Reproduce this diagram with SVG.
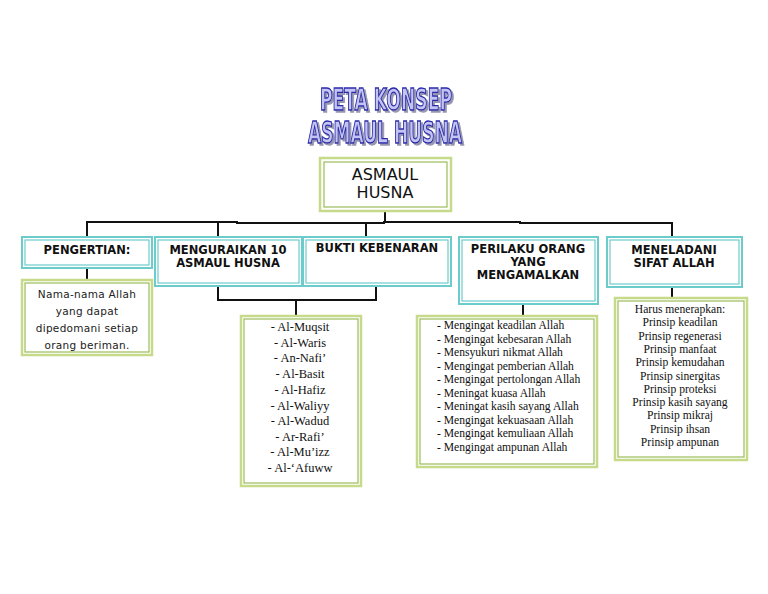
<svg xmlns="http://www.w3.org/2000/svg" width="768" height="594" viewBox="0 0 768 594">
<defs>
<filter id="sh" x="-10%" y="-20%" width="130%" height="150%">
<feDropShadow dx="2" dy="2" stdDeviation="0.6" flood-color="#8a8aa8" flood-opacity="0.9"/>
</filter>
</defs>
<style>
.title{font-family:"Liberation Sans Narrow","DejaVu Sans Condensed","Liberation Sans",sans-serif;font-weight:bold;font-size:30px;fill:#c4c4f4;stroke:#2a2aa8;stroke-width:1.3;text-anchor:middle;filter:url(#sh)}
.go{fill:#fff;stroke:#c6da8a;stroke-width:2.5}
.gi{fill:none;stroke:#9cbc5a;stroke-width:1.2}
.co{fill:#fff;stroke:#6ccccc;stroke-width:2}
.ci{fill:none;stroke:#6ccccc;stroke-width:1.2}
.hd{font-family:"DejaVu Sans","Liberation Sans",sans-serif;font-weight:bold;font-size:11.5px;fill:#111;text-anchor:middle}
.root{font-family:"DejaVu Sans","Liberation Sans",sans-serif;font-size:16px;fill:#111;text-anchor:middle}
.cm{font-family:"DejaVu Sans","Liberation Sans",sans-serif;font-size:10.5px;fill:#222;text-anchor:middle;letter-spacing:0.3px}
.sr{font-family:"Liberation Serif","DejaVu Serif",serif;font-size:12.5px;fill:#111}
.sm{font-family:"Liberation Serif","DejaVu Serif",serif;font-size:11.6px;fill:#111}
.ln{fill:none;stroke:#111;stroke-width:2}
</style>
<rect width="768" height="594" fill="#fff"/>
<g id="title">
<text class="title" x="386" y="110" textLength="132" lengthAdjust="spacingAndGlyphs">PETA KONSEP</text>
<text class="title" x="385" y="143" textLength="154" lengthAdjust="spacingAndGlyphs">ASMAUL HUSNA</text>
</g>
<g id="connectors">
<path class="ln" d="M385 212V222"/>
<path class="ln" d="M87 237V222H237V223H384V222H520V223H672V237"/>
<path class="ln" d="M218 222V237"/>
<path class="ln" d="M366 223V237"/>
<path class="ln" d="M87 268V280"/>
<path class="ln" d="M218 286V300H376V287"/>
<path class="ln" d="M296 300V316"/>
<path class="ln" d="M523 304V316"/>
<path class="ln" d="M672 287V298"/>
</g>
<g id="n-root">
<rect class="go" x="320" y="158" width="131" height="53"/>
<rect class="gi" x="324" y="162" width="123" height="45"/>
<text class="root" x="385" y="180">ASMAUL</text>
<text class="root" x="385" y="198">HUSNA</text>
</g>
<g id="n-pengertian">
<rect class="co" x="22" y="237" width="130" height="31"/>
<rect class="ci" x="25" y="240" width="124" height="25"/>
<text class="hd" x="87" y="254">PENGERTIAN:</text>
</g>
<g id="n-menguraikan">
<rect class="co" x="155" y="237" width="147" height="49"/>
<rect class="ci" x="158" y="240" width="141" height="43"/>
<text class="hd" x="228" y="254">MENGURAIKAN 10</text>
<text class="hd" x="228" y="267">ASMAUL HUSNA</text>
</g>
<g id="n-bukti">
<rect class="co" x="303" y="237" width="148" height="49"/>
<rect class="ci" x="306" y="240" width="142" height="43"/>
<text class="hd" x="377" y="252">BUKTI KEBENARAN</text>
</g>
<g id="n-perilaku">
<rect class="co" x="459" y="237" width="139" height="67"/>
<rect class="ci" x="462" y="240" width="133" height="61"/>
<text class="hd" x="528" y="253">PERILAKU ORANG</text>
<text class="hd" x="528" y="266">YANG</text>
<text class="hd" x="528" y="279">MENGAMALKAN</text>
</g>
<g id="n-meneladani">
<rect class="co" x="607" y="237" width="135" height="50"/>
<rect class="ci" x="610" y="240" width="129" height="44"/>
<text class="hd" x="674" y="254">MENELADANI</text>
<text class="hd" x="674" y="267">SIFAT ALLAH</text>
</g>
<g id="n-pengertian-isi">
<rect class="go" x="22" y="280" width="130" height="75"/>
<rect class="gi" x="25" y="283" width="124" height="69"/>
<text class="cm" x="87" y="298">Nama-nama Allah</text>
<text class="cm" x="87" y="315">yang dapat</text>
<text class="cm" x="87" y="332">dipedomani setiap</text>
<text class="cm" x="87" y="349">orang beriman.</text>
</g>
<g id="n-asmaul-list">
<rect class="go" x="241" y="316" width="120" height="170"/>
<rect class="gi" x="244" y="319" width="114" height="164"/>
<g class="sr" text-anchor="middle">
<text x="300" y="331">- Al-Muqsit</text>
<text x="300" y="347">- Al-Waris</text>
<text x="300" y="362">- An-Nafi’</text>
<text x="300" y="378">- Al-Basit</text>
<text x="300" y="394">- Al-Hafiz</text>
<text x="300" y="410">- Al-Waliyy</text>
<text x="300" y="425">- Al-Wadud</text>
<text x="300" y="441">- Ar-Rafi’</text>
<text x="300" y="456">- Al-Mu’izz</text>
<text x="300" y="472">- Al-‘Afuww</text>
</g>
</g>
<g id="n-perilaku-list">
<rect class="go" x="417" y="316" width="180" height="151"/>
<rect class="gi" x="420" y="319" width="174" height="145"/>
<g class="sm">
<text x="437" y="329">-  Mengingat keadilan Allah</text>
<text x="437" y="342.5">-  Mengingat kebesaran Allah</text>
<text x="437" y="356">-  Mensyukuri nikmat Allah</text>
<text x="437" y="369.5">-  Mengingat pemberian Allah</text>
<text x="437" y="383">-  Mengingat pertolongan Allah</text>
<text x="437" y="396.5">-  Meningat kuasa Allah</text>
<text x="437" y="410">-  Meningat kasih sayang Allah</text>
<text x="437" y="423.5">-  Mengingat kekuasaan Allah</text>
<text x="437" y="437">-  Mengingat kemuliaan Allah</text>
<text x="437" y="450.5">-  Mengingat ampunan Allah</text>
</g>
</g>
<g id="n-meneladani-list">
<rect class="go" x="615" y="298" width="132" height="162"/>
<rect class="gi" x="618" y="301" width="126" height="156"/>
<g class="sm" text-anchor="middle">
<text x="680" y="313">Harus menerapkan:</text>
<text x="680" y="326.3">Prinsip keadilan</text>
<text x="680" y="339.6">Prinsip regenerasi</text>
<text x="680" y="352.9">Prinsip manfaat</text>
<text x="680" y="366.2">Prinsip kemudahan</text>
<text x="680" y="379.5">Prinsip sinergitas</text>
<text x="680" y="392.8">Prinsip proteksi</text>
<text x="680" y="406.1">Prinsip kasih sayang</text>
<text x="680" y="419.4">Prinsip mikraj</text>
<text x="680" y="432.7">Prinsip ihsan</text>
<text x="680" y="446">Prinsip ampunan</text>
</g>
</g>
</svg>
